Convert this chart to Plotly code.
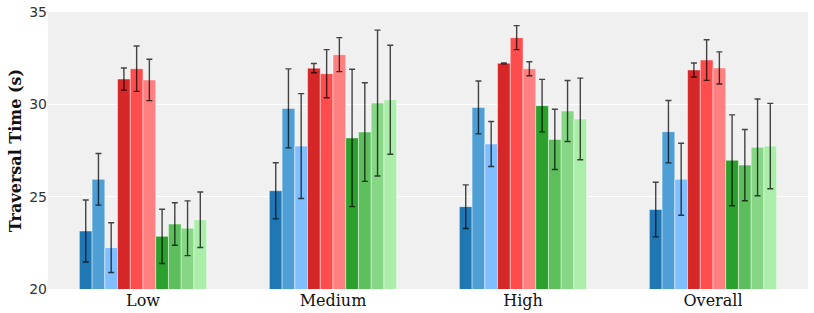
import plotly.graph_objects as go

categories = ["Low", "Medium", "High", "Overall"]

series_names = ["B1", "B2", "B3", "R1", "R2", "R3", "G1", "G2", "G3", "G4"]
colors = ["#1f77b4", "#4e9fd6", "#80bfff",
          "#d62728", "#ff4c4c", "#ff8080",
          "#2ca02c", "#5cbf5c", "#86d686", "#aaeeaa"]

means = [
    [23.14, 25.32, 24.46, 24.30],
    [25.94, 29.78, 29.83, 28.52],
    [22.24, 27.74, 27.85, 25.94],
    [31.37, 31.96, 32.22, 31.86],
    [31.93, 31.66, 33.61, 32.40],
    [31.32, 32.69, 31.93, 31.97],
    [22.85, 28.18, 29.93, 26.97],
    [23.52, 28.50, 28.10, 26.71],
    [23.29, 30.07, 29.64, 27.67],
    [23.75, 30.25, 29.21, 27.74],
]
errors = [
    [1.68, 1.52, 1.18, 1.48],
    [1.40, 2.14, 1.43, 1.69],
    [1.35, 2.84, 1.22, 1.95],
    [0.60, 0.25, 0.02, 0.38],
    [1.23, 1.30, 0.65, 1.10],
    [1.12, 0.92, 0.38, 0.87],
    [1.47, 3.72, 1.42, 2.46],
    [1.15, 2.67, 1.63, 1.93],
    [1.48, 3.95, 1.65, 2.62],
    [1.50, 2.95, 2.21, 2.31],
]

y_ticks = [20, 25, 30, 35]

fig = go.Figure()
for name, col, m, e in zip(series_names, colors, means, errors):
    fig.add_trace(go.Bar(
        x=categories, y=m, name=name,
        marker=dict(color=col, line=dict(color="rgba(255,255,255,0.45)", width=1)),
        error_y=dict(type="data", array=e, visible=True,
                     color="rgba(0,0,0,0.72)", thickness=1.4, width=3),
        showlegend=False,
    ))

fig.update_layout(
    width=814, height=313,
    margin=dict(l=48, r=6, t=12, b=24),
    barmode="group", bargap=0.33, bargroupgap=0,
    paper_bgcolor="white", plot_bgcolor="#f0f0f0",
    font=dict(family="DejaVu Sans", size=14, color="#333333"),
)
fig.update_xaxes(
    range=[-0.5, 3.5], showgrid=False, ticks="", automargin=False,
    tickfont=dict(family="DejaVu Serif", size=16, color="#111111"),
    zeroline=False, showline=False,
)
fig.update_yaxes(
    range=[20, 35], tickvals=y_ticks, ticks="", automargin=False,
    showgrid=True, gridcolor="white", gridwidth=1,
    zeroline=False, showline=False,
    tickfont=dict(family="DejaVu Sans", size=14, color="#333333"),
    title=dict(text="<b>Traversal Time (s)</b>",
               font=dict(family="DejaVu Serif", size=16, color="#111111"),
               standoff=3),
)

fig.write_html("out.html", config={"displayModeBar": False},
               post_script="document.body.style.margin='0';")
